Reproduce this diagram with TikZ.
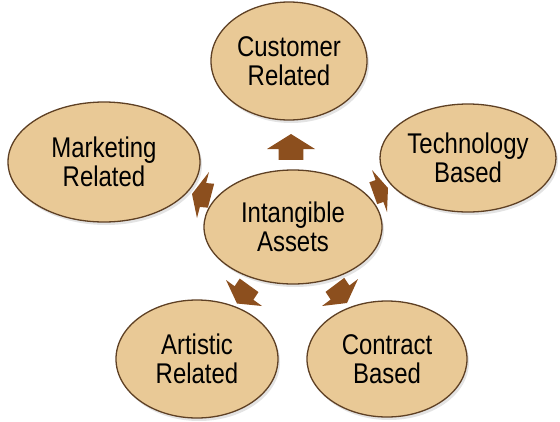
\documentclass[tikz,border=0pt]{standalone}
\usepackage{fontspec}
\usetikzlibrary{shapes.geometric,shadows}
\newfontfamily\narrowsans[FakeStretch=0.84]{Liberation Sans}
\definecolor{tan}{HTML}{E9C996}
\definecolor{rim}{HTML}{5E4024}
\definecolor{arrowbrown}{HTML}{8C4F1E}
\tikzset{
  oval/.style={ellipse, draw=rim, line width=1.3pt, fill=tan, inner sep=0pt,
    align=center, font=\narrowsans\fontsize{28.5}{29.5}\selectfont,
    drop shadow={opacity=0.22, shadow xshift=2pt, shadow yshift=-3pt}},
  arrowfill/.style={fill=arrowbrown}
}
% Mx My Ax Ay Bx By : wing midpoint, tip offset, half-wing vector
\newcommand\flatarrow[6]{%
  \fill[arrowfill]
    ({#1+(#3)},{#2+(#4)}) --
    ({#1+(#5)},{#2+(#6)}) --
    ({#1+0.52*(#5)},{#2+0.52*(#6)}) --
    ({#1-0.73*(#3)+0.52*(#5)},{#2-0.73*(#4)+0.52*(#6)}) --
    ({#1-0.73*(#3)-0.52*(#5)},{#2-0.73*(#4)-0.52*(#6)}) --
    ({#1-0.52*(#5)},{#2-0.52*(#6)}) --
    ({#1-(#5)},{#2-(#6)}) -- cycle;}
\begin{document}
\begin{tikzpicture}[x=1pt,y=-1pt]
\useasboundingbox[fill=white] (0,0) rectangle (560,421);
\node[oval, minimum width=156pt, minimum height=118pt] (cust) at (289,61) {Customer\\Related};
\node[oval, minimum width=192pt, minimum height=120pt] (mark) at (104,162) {Marketing\\Related};
\node[oval, minimum width=176pt, minimum height=108pt] (tech) at (468,158) {Technology\\Based};
\node[oval, minimum width=178pt, minimum height=114pt] (cent) at (293,227) {Intangible\\Assets};
\node[oval, minimum width=162pt, minimum height=118pt] (art) at (197,359) {Artistic\\Related};
\node[oval, minimum width=160pt, minimum height=116pt] (contr) at (387,359) {Contract\\Based};
% arrows
\flatarrow{291}{149}{0}{-15}{24}{0}
\flatarrow{203}{195}{-11}{-1}{6}{-23}
\flatarrow{379.5}{191}{8.5}{-3}{-7.5}{-21}
\flatarrow{340}{292.5}{7}{10.5}{18}{-13.5}
\flatarrow{244}{293}{-7}{10.5}{-18}{-13}
\end{tikzpicture}
\end{document}
